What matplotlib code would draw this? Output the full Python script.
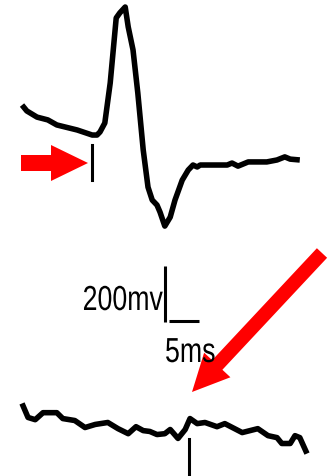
import matplotlib.pyplot as plt
import matplotlib.patches as mpatches
import matplotlib.patheffects as pe
from matplotlib.transforms import Affine2D

# Registro superior (potencial evocado), tiempo en ms y amplitud en mV
t_sup = [0, 0.8, 2.5, 4.3, 5.8, 9.2, 11.7, 12.5, 13, 13.8, 14.7, 15.7, 16.3, 17.2,
         17.7, 18.5, 19.3, 20.2, 21, 21.7, 22.5, 23, 23.8, 24.7, 25.5, 26.7, 27.7,
         28.5, 29.2, 29.7, 34.2, 35, 36, 37.7, 40.8, 42.5, 43.8, 44.7, 46.3]
v_sup = [214, 193, 171, 161, 143, 125, 107, 107, 118, 150, 293, 525, 543, 564,
         493, 411, 257, 54, -79, -125, -143, -168, -218, -186, -125, -54, -18,
         0, -7, 0, 0, 7, -4, 11, 11, 18, 29, 21, 18]

# Registro inferior (sin respuesta)
t_inf = [0, 1, 2.2, 3.5, 5.8, 6.8, 8.8, 10.5, 12.2, 14.3, 16, 17.7, 19, 20.2, 21.3,
         22.5, 23.8, 24.7, 26, 27.2, 28, 29.2, 30.5, 32.5, 33.8, 36.7, 39.3, 41,
         42.5, 43.3, 44.7, 45.5, 46.3, 47.5]
v_inf = [79, 29, 21, 46, 46, 25, 18, -7, 4, 11, -11, -29, -4, -18, -21, -32, -29,
         -14, -46, -14, 25, 7, 11, -4, 7, -25, -11, -36, -43, -64, -64, -36, -43, -100]
offset_inf = -930

# marcas del estimulo (ms)
estimulo_sup = 11.7
estimulo_inf = 27.8

# barra de escala
escala_mv = 200
escala_ms = 5


class Estrecho(pe.AbstractPathEffect):
    """Comprime el texto en horizontal alrededor de x_ancla (pixeles)."""

    def __init__(self, sx, x_ancla):
        super().__init__()
        self.sx = sx
        self.x_ancla = x_ancla

    def draw_path(self, renderer, gc, tpath, affine, rgbFace=None):
        t = Affine2D().translate(-self.x_ancla, 0).scale(self.sx, 1).translate(self.x_ancla, 0)
        renderer.draw_path(gc, tpath, affine + t, rgbFace)


W, H = 331, 476
fig = plt.figure(figsize=(W / 100, H / 100), dpi=100)
ax = fig.add_axes([0, 0, 1, 1])
ax.set_xlim(-3.67, 51.5)
ax.set_ylim(-1110, 589)
ax.axis('off')

# coordenadas en pixeles (y hacia abajo) para flechas y textos
px = Affine2D().scale(1 / W, -1 / H).translate(0, 1) + fig.transFigure

ax.plot(t_sup, v_sup, color='black', lw=4.0, solid_capstyle='butt', solid_joinstyle='round')
ax.plot(t_inf, [v + offset_inf for v in v_inf], color='black', lw=4.0,
        solid_capstyle='butt', solid_joinstyle='round')

ax.plot([estimulo_sup, estimulo_sup], [71, -54], color='black', lw=2.2)
ax.plot([estimulo_inf, estimulo_inf], [-979, -1120], color='black', lw=2.2)

# escala: 200 mV vertical, 5 ms horizontal
x0, y0 = 23.9, -560
ax.plot([x0, x0], [y0, y0 + escala_mv], color='black', lw=2.2, solid_capstyle='butt')
ax.plot([x0 + 0.6, x0 + 0.6 + escala_ms], [y0 + 4, y0 + 4], color='black', lw=2.2,
        solid_capstyle='butt')

fuente = ['Liberation Sans', 'DejaVu Sans']
fig.text(163, 310, '200mv', transform=px, family=fuente, fontsize=25,
         ha='right', va='baseline', path_effects=[Estrecho(0.77, 163)])
fig.text(165, 362, '5ms', transform=px, family=fuente, fontsize=25,
         ha='left', va='baseline', path_effects=[Estrecho(0.77, 165)])

# flechas rojas
fig.patches.append(mpatches.FancyArrow(21, 163, 67, 0, width=16, head_width=36,
                                       head_length=37, length_includes_head=True,
                                       color='red', lw=0, transform=px))
fig.patches.append(mpatches.FancyArrow(322, 253, -130, 139, width=14, head_width=36,
                                       head_length=37, length_includes_head=True,
                                       color='red', lw=0, transform=px))

plt.savefig('out.png', dpi=100)
